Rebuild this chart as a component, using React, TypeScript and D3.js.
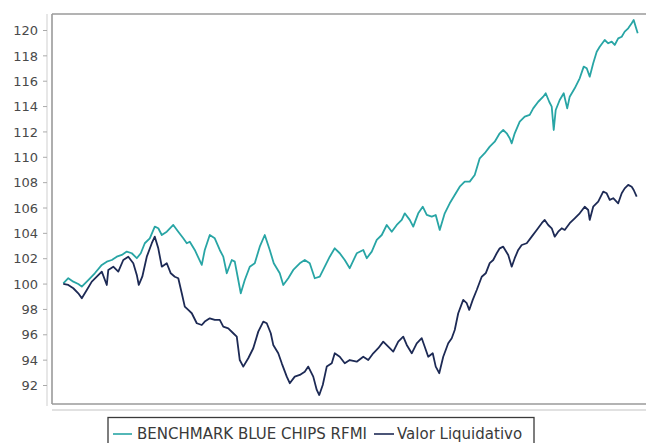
import React from "react";
import * as d3 from "d3";

// [day index, value]
const benchmark: [number, number][] = [
  [0, 100.06], [10, 100.46], [20, 100.19], [30, 100.01], [37, 99.8], [50, 100.32], [63, 100.85], [77, 101.51],
  [87, 101.77], [97, 101.9], [107, 102.16], [117, 102.3], [127, 102.56], [137, 102.43], [147, 102.04], [155, 102.43],
  [163, 103.22], [173, 103.61], [183, 104.53], [190, 104.4], [197, 103.87], [207, 104.13], [220, 104.66], [230, 104.13],
  [240, 103.61], [247, 103.22], [253, 103.34], [263, 102.69], [277, 101.51], [283, 102.69], [293, 103.87], [303, 103.61],
  [313, 102.69], [320, 102.16], [327, 100.85], [337, 101.9], [343, 101.77], [350, 100.32], [355, 99.27], [363, 100.32],
  [373, 101.37], [383, 101.64], [393, 102.95], [403, 103.87], [413, 102.69], [421, 101.64], [433, 100.85], [440, 99.93],
  [450, 100.46], [460, 101.11], [473, 101.64], [483, 101.9], [493, 101.64], [503, 100.46], [513, 100.58], [523, 101.37],
  [533, 102.16], [543, 102.82], [553, 102.43], [563, 101.9], [573, 101.25], [587, 102.43], [600, 102.69], [607, 102.04],
  [617, 102.56], [627, 103.48], [637, 103.87], [647, 104.66], [657, 104.13], [667, 104.66], [677, 105.06], [683, 105.58],
  [693, 105.06], [700, 104.53], [710, 105.58], [719, 106.1], [727, 105.45], [737, 105.32], [745, 105.45], [753, 104.27],
  [763, 105.58], [773, 106.37], [783, 107.03], [793, 107.68], [803, 108.08], [813, 108.08], [823, 108.6], [833, 109.92],
  [843, 110.32], [853, 110.84], [863, 111.23], [873, 111.89], [880, 112.15], [887, 111.89], [893, 111.5], [897, 111.1],
  [903, 111.89], [913, 112.81], [923, 113.2], [933, 113.34], [940, 113.86], [950, 114.38], [960, 114.78], [965, 115.05],
  [972, 114.38], [977, 113.99], [981, 112.15], [985, 113.73], [993, 114.52], [1001, 115.05], [1008, 113.86], [1013, 114.78],
  [1023, 115.44], [1033, 116.23], [1041, 117.15], [1047, 117.02], [1053, 116.36], [1060, 117.41], [1067, 118.33], [1073, 118.72],
  [1083, 119.25], [1090, 118.99], [1097, 119.12], [1103, 118.86], [1110, 119.38], [1117, 119.51], [1123, 119.91], [1130, 120.17],
  [1137, 120.57], [1141, 120.83], [1145, 120.3], [1149, 119.78],
];

const valorLiquidativo: [number, number][] = [
  [0, 100.01], [10, 99.93], [20, 99.67], [30, 99.27], [37, 98.88], [47, 99.53], [57, 100.19], [67, 100.58],
  [77, 100.98], [87, 99.93], [90, 101.11], [100, 101.37], [110, 100.98], [120, 101.9], [130, 102.16], [140, 101.64],
  [147, 100.72], [151, 99.93], [158, 100.58], [167, 102.16], [177, 103.22], [183, 103.74], [190, 102.82], [197, 101.37],
  [207, 101.64], [215, 100.85], [223, 100.58], [230, 100.46], [237, 99.27], [243, 98.22], [250, 97.96], [257, 97.7],
  [267, 96.91], [277, 96.77], [283, 97.04], [293, 97.3], [303, 97.17], [313, 97.17], [320, 96.64], [330, 96.51],
  [340, 96.12], [347, 95.85], [353, 94.01], [360, 93.49], [370, 94.15], [380, 94.94], [390, 96.25], [400, 97.04],
  [407, 96.91], [415, 96.12], [420, 95.2], [430, 94.54], [437, 93.75], [447, 92.7], [453, 92.18], [463, 92.7],
  [473, 92.83], [483, 93.09], [490, 93.49], [500, 92.7], [507, 91.65], [512, 91.25], [519, 92.04], [527, 93.49],
  [537, 93.75], [543, 94.54], [553, 94.27], [563, 93.75], [573, 94.01], [587, 93.88], [600, 94.27], [610, 94.01],
  [620, 94.54], [630, 94.94], [640, 95.46], [650, 95.06], [660, 94.67], [670, 95.46], [680, 95.85], [687, 95.2],
  [697, 94.54], [707, 95.33], [717, 95.73], [723, 95.06], [730, 94.27], [739, 94.54], [745, 93.49], [752, 92.97],
  [760, 94.27], [770, 95.33], [777, 95.73], [783, 96.38], [790, 97.7], [800, 98.75], [807, 98.49], [812, 97.96],
  [819, 98.75], [827, 99.53], [837, 100.58], [845, 100.85], [853, 101.65], [860, 101.9], [867, 102.43], [873, 102.82],
  [880, 102.95], [890, 102.3], [897, 101.37], [903, 102.04], [910, 102.69], [917, 103.08], [927, 103.22], [937, 103.74],
  [947, 104.27], [957, 104.8], [963, 105.06], [970, 104.66], [977, 104.4], [983, 103.74], [990, 104.13], [997, 104.4],
  [1003, 104.27], [1013, 104.8], [1023, 105.19], [1033, 105.58], [1043, 106.1], [1050, 105.84], [1053, 105.06], [1060, 106.1],
  [1070, 106.5], [1080, 107.29], [1087, 107.16], [1093, 106.64], [1100, 106.77], [1110, 106.37], [1117, 107.16], [1123, 107.55],
  [1130, 107.82], [1137, 107.68], [1141, 107.42], [1147, 106.89],
];

const yTicks = [92, 94, 96, 98, 100, 102, 104, 106, 108, 110, 112, 114, 116, 118, 120];
const seriesNames = ["BENCHMARK BLUE CHIPS RFMI", "Valor Liquidativo"];
const seriesColors = ["#28a5a5", "#1d2a55"];

const W = 646;
const H = 443;
const plotLeft = 52;
const plotTop = 14;
const plotBottom = 404;
const font = "'DejaVu Sans', sans-serif";

export default function App() {
  const x = d3.scaleLinear().domain([0, 1149]).range([63.3, 637.7]);
  const y = d3.scaleLinear().domain([92, 120]).range([385.5, 30.5]);
  const line = d3
    .line<[number, number]>()
    .x((d) => x(d[0]))
    .y((d) => y(d[1]));

  return (
    <svg
      width={W}
      height={H}
      style={{ position: "absolute", left: 0, top: 0, background: "#fff" }}
      fontFamily={font}
    >
      <defs>
        <clipPath id="plotclip">
          <rect x={plotLeft} y={plotTop} width={W - plotLeft} height={plotBottom - plotTop} />
        </clipPath>
      </defs>
      {/* y axis line + ticks */}
      <line x1={47} x2={47} y1={plotTop} y2={plotBottom + 2} stroke="#cfcfcf" strokeWidth={1} />
      {yTicks.map((t) => (
        <g key={t}>
          <line x1={43} x2={47} y1={y(t)} y2={y(t)} stroke="#aaa" strokeWidth={1} />
          <text x={38} y={y(t)} dy="0.36em" textAnchor="end" fontSize={13} fill="#4a4a4a">
            {t}
          </text>
        </g>
      ))}
      {/* x axis line */}
      <line x1={plotLeft} x2={W} y1={410} y2={410} stroke="#c4c4c4" strokeWidth={1.2} />
      {/* plot frame */}
      <line x1={plotLeft} x2={W} y1={plotTop} y2={plotTop} stroke="#9a9a9a" strokeWidth={1.6} />
      <line x1={plotLeft} x2={plotLeft} y1={plotTop} y2={plotBottom} stroke="#9a9a9a" strokeWidth={1.6} />
      <line x1={plotLeft} x2={W} y1={plotBottom} y2={plotBottom} stroke="#9a9a9a" strokeWidth={1.6} />
      <g clipPath="url(#plotclip)" fill="none" strokeWidth={1.8} strokeLinejoin="round">
        <path d={line(benchmark) || ""} stroke={seriesColors[0]} />
        <path d={line(valorLiquidativo) || ""} stroke={seriesColors[1]} />
      </g>
      {/* legend */}
      <rect x={108} y={417.5} width={426} height={40} fill="#fff" stroke="#3a3a3a" strokeWidth={1.3} />
      <line x1={113} x2={132} y1={434} y2={434} stroke={seriesColors[0]} strokeWidth={1.6} />
      <text x={137} y={439} fontSize={15} fill="#3a3a3a">
        {seriesNames[0]}
      </text>
      <line x1={374} x2={394} y1={434} y2={434} stroke={seriesColors[1]} strokeWidth={1.6} />
      <text x={397} y={439} fontSize={15} fill="#3a3a3a">
        {seriesNames[1]}
      </text>
    </svg>
  );
}
